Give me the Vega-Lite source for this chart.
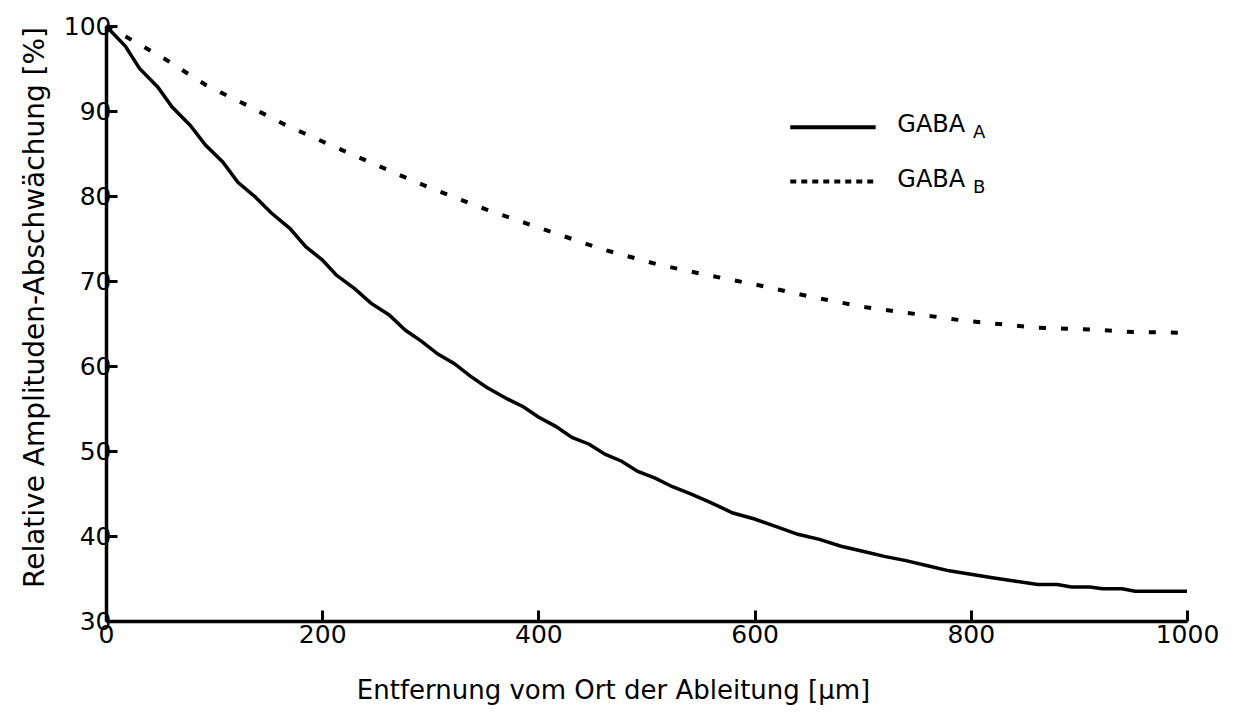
{
  "$schema": "https://vega.github.io/schema/vega-lite/v6.json",
  "width": 1081,
  "height": 595,
  "autosize": {"type": "none"},
  "padding": {"left": 106, "top": 26, "right": 48, "bottom": 99},
  "background": "white",
  "config": {
    "view": {"stroke": null},
    "font": "DejaVu Sans",
    "axis": {
      "domainColor": "black",
      "domainWidth": 3.5,
      "tickColor": "black",
      "tickWidth": 3,
      "tickSize": -11,
      "grid": false,
      "labelFont": "DejaVu Sans",
      "labelColor": "black",
      "titleFont": "DejaVu Sans",
      "titleFontWeight": "normal",
      "titleColor": "black"
    }
  },
  "datasets": {
    "curves": [
      {"x": 0, "y": 100, "serie": "GABA_A"},
      {"x": 18, "y": 97.6, "serie": "GABA_A"},
      {"x": 31, "y": 95.0, "serie": "GABA_A"},
      {"x": 48, "y": 92.8, "serie": "GABA_A"},
      {"x": 61, "y": 90.5, "serie": "GABA_A"},
      {"x": 78, "y": 88.3, "serie": "GABA_A"},
      {"x": 92, "y": 86.0, "serie": "GABA_A"},
      {"x": 108, "y": 84.0, "serie": "GABA_A"},
      {"x": 122, "y": 81.6, "serie": "GABA_A"},
      {"x": 138, "y": 79.9, "serie": "GABA_A"},
      {"x": 153, "y": 78.0, "serie": "GABA_A"},
      {"x": 170, "y": 76.2, "serie": "GABA_A"},
      {"x": 185, "y": 74.0, "serie": "GABA_A"},
      {"x": 200, "y": 72.5, "serie": "GABA_A"},
      {"x": 213, "y": 70.7, "serie": "GABA_A"},
      {"x": 230, "y": 69.1, "serie": "GABA_A"},
      {"x": 245, "y": 67.4, "serie": "GABA_A"},
      {"x": 262, "y": 66.0, "serie": "GABA_A"},
      {"x": 277, "y": 64.2, "serie": "GABA_A"},
      {"x": 292, "y": 62.9, "serie": "GABA_A"},
      {"x": 307, "y": 61.4, "serie": "GABA_A"},
      {"x": 322, "y": 60.3, "serie": "GABA_A"},
      {"x": 337, "y": 58.8, "serie": "GABA_A"},
      {"x": 352, "y": 57.5, "serie": "GABA_A"},
      {"x": 370, "y": 56.2, "serie": "GABA_A"},
      {"x": 386, "y": 55.2, "serie": "GABA_A"},
      {"x": 400, "y": 54.0, "serie": "GABA_A"},
      {"x": 416, "y": 52.9, "serie": "GABA_A"},
      {"x": 431, "y": 51.6, "serie": "GABA_A"},
      {"x": 447, "y": 50.8, "serie": "GABA_A"},
      {"x": 462, "y": 49.6, "serie": "GABA_A"},
      {"x": 477, "y": 48.8, "serie": "GABA_A"},
      {"x": 492, "y": 47.6, "serie": "GABA_A"},
      {"x": 508, "y": 46.8, "serie": "GABA_A"},
      {"x": 524, "y": 45.8, "serie": "GABA_A"},
      {"x": 542, "y": 44.9, "serie": "GABA_A"},
      {"x": 560, "y": 43.9, "serie": "GABA_A"},
      {"x": 580, "y": 42.7, "serie": "GABA_A"},
      {"x": 600, "y": 42.0, "serie": "GABA_A"},
      {"x": 620, "y": 41.1, "serie": "GABA_A"},
      {"x": 640, "y": 40.2, "serie": "GABA_A"},
      {"x": 660, "y": 39.6, "serie": "GABA_A"},
      {"x": 680, "y": 38.8, "serie": "GABA_A"},
      {"x": 700, "y": 38.2, "serie": "GABA_A"},
      {"x": 720, "y": 37.6, "serie": "GABA_A"},
      {"x": 740, "y": 37.1, "serie": "GABA_A"},
      {"x": 760, "y": 36.5, "serie": "GABA_A"},
      {"x": 780, "y": 35.9, "serie": "GABA_A"},
      {"x": 800, "y": 35.5, "serie": "GABA_A"},
      {"x": 820, "y": 35.1, "serie": "GABA_A"},
      {"x": 840, "y": 34.7, "serie": "GABA_A"},
      {"x": 862, "y": 34.3, "serie": "GABA_A"},
      {"x": 880, "y": 34.3, "serie": "GABA_A"},
      {"x": 893, "y": 34.0, "serie": "GABA_A"},
      {"x": 910, "y": 34.0, "serie": "GABA_A"},
      {"x": 922, "y": 33.8, "serie": "GABA_A"},
      {"x": 940, "y": 33.8, "serie": "GABA_A"},
      {"x": 952, "y": 33.5, "serie": "GABA_A"},
      {"x": 1000, "y": 33.5, "serie": "GABA_A"},

      {"x": 0, "y": 100, "serie": "GABA_B"},
      {"x": 19, "y": 98.7, "serie": "GABA_B"},
      {"x": 56, "y": 96.0, "serie": "GABA_B"},
      {"x": 93, "y": 93.0, "serie": "GABA_B"},
      {"x": 130, "y": 90.7, "serie": "GABA_B"},
      {"x": 167, "y": 88.3, "serie": "GABA_B"},
      {"x": 204, "y": 86.2, "serie": "GABA_B"},
      {"x": 260, "y": 83.1, "serie": "GABA_B"},
      {"x": 297, "y": 81.1, "serie": "GABA_B"},
      {"x": 352, "y": 78.4, "serie": "GABA_B"},
      {"x": 402, "y": 76.2, "serie": "GABA_B"},
      {"x": 460, "y": 73.7, "serie": "GABA_B"},
      {"x": 512, "y": 71.9, "serie": "GABA_B"},
      {"x": 560, "y": 70.6, "serie": "GABA_B"},
      {"x": 600, "y": 69.6, "serie": "GABA_B"},
      {"x": 650, "y": 68.2, "serie": "GABA_B"},
      {"x": 703, "y": 66.9, "serie": "GABA_B"},
      {"x": 750, "y": 66.1, "serie": "GABA_B"},
      {"x": 790, "y": 65.4, "serie": "GABA_B"},
      {"x": 821, "y": 65.0, "serie": "GABA_B"},
      {"x": 862, "y": 64.5, "serie": "GABA_B"},
      {"x": 910, "y": 64.3, "serie": "GABA_B"},
      {"x": 950, "y": 64.0, "serie": "GABA_B"},
      {"x": 1000, "y": 63.9, "serie": "GABA_B"}
    ],
    "keys": [
      {"serie": "GABA_A", "x1": 633, "x2": 712, "y": 88.1, "tx": 732, "sx": 802, "sub": "A"},
      {"serie": "GABA_B", "x1": 633, "x2": 712, "y": 81.7, "tx": 732, "sx": 802, "sub": "B"}
    ]
  },
  "layer": [
    {
      "data": {"name": "curves"},
      "transform": [{"filter": "datum.serie === 'GABA_A'"}],
      "mark": {"type": "line", "color": "black", "strokeWidth": 3.5, "clip": false},
      "encoding": {
        "x": {
          "field": "x", "type": "quantitative",
          "scale": {"domain": [0, 1000], "nice": false, "zero": false},
          "axis": {
            "values": [0, 200, 400, 600, 800, 1000],
            "format": "d",
            "labelFlush": false,
            "labelFontSize": 25,
            "labelPadding": 12,
            "title": "Entfernung vom Ort der Ableitung [µm]",
            "titleFontSize": 26,
            "titlePadding": 30,
            "titleX": 507
          }
        },
        "y": {
          "field": "y", "type": "quantitative",
          "scale": {"domain": [30, 100], "nice": false, "zero": false},
          "axis": {
            "values": [30, 40, 50, 60, 70, 80, 90, 100],
            "labelFontSize": 25,
            "labelPadding": 6,
            "title": "Relative Amplituden-Abschwächung [%]",
            "titleFontSize": 28,
            "titlePadding": 14,
            "titleY": 281
          }
        }
      }
    },
    {
      "data": {"name": "curves"},
      "transform": [{"filter": "datum.serie === 'GABA_B'"}],
      "mark": {"type": "line", "color": "black", "strokeWidth": 4, "strokeDash": [7, 15], "strokeCap": "butt", "clip": false},
      "encoding": {
        "x": {"field": "x", "type": "quantitative"},
        "y": {"field": "y", "type": "quantitative"}
      }
    },
    {
      "data": {"name": "keys"},
      "mark": {"type": "rule", "color": "black", "strokeWidth": 4},
      "encoding": {
        "x": {"field": "x1", "type": "quantitative"},
        "x2": {"field": "x2"},
        "y": {"field": "y", "type": "quantitative"},
        "strokeDash": {
          "field": "serie", "type": "nominal",
          "scale": {"domain": ["GABA_A", "GABA_B"], "range": [[1, 0], [6, 5]]},
          "legend": null
        }
      }
    },
    {
      "data": {"name": "keys"},
      "mark": {"type": "text", "align": "left", "baseline": "middle", "fontSize": 24, "font": "DejaVu Sans", "color": "black", "dy": -2},
      "encoding": {
        "x": {"field": "tx", "type": "quantitative"},
        "y": {"field": "y", "type": "quantitative"},
        "text": {"value": "GABA"}
      }
    },
    {
      "data": {"name": "keys"},
      "mark": {"type": "text", "align": "left", "baseline": "middle", "fontSize": 18, "font": "DejaVu Sans", "color": "black", "dy": 6},
      "encoding": {
        "x": {"field": "sx", "type": "quantitative"},
        "y": {"field": "y", "type": "quantitative"},
        "text": {"field": "sub"}
      }
    }
  ]
}
